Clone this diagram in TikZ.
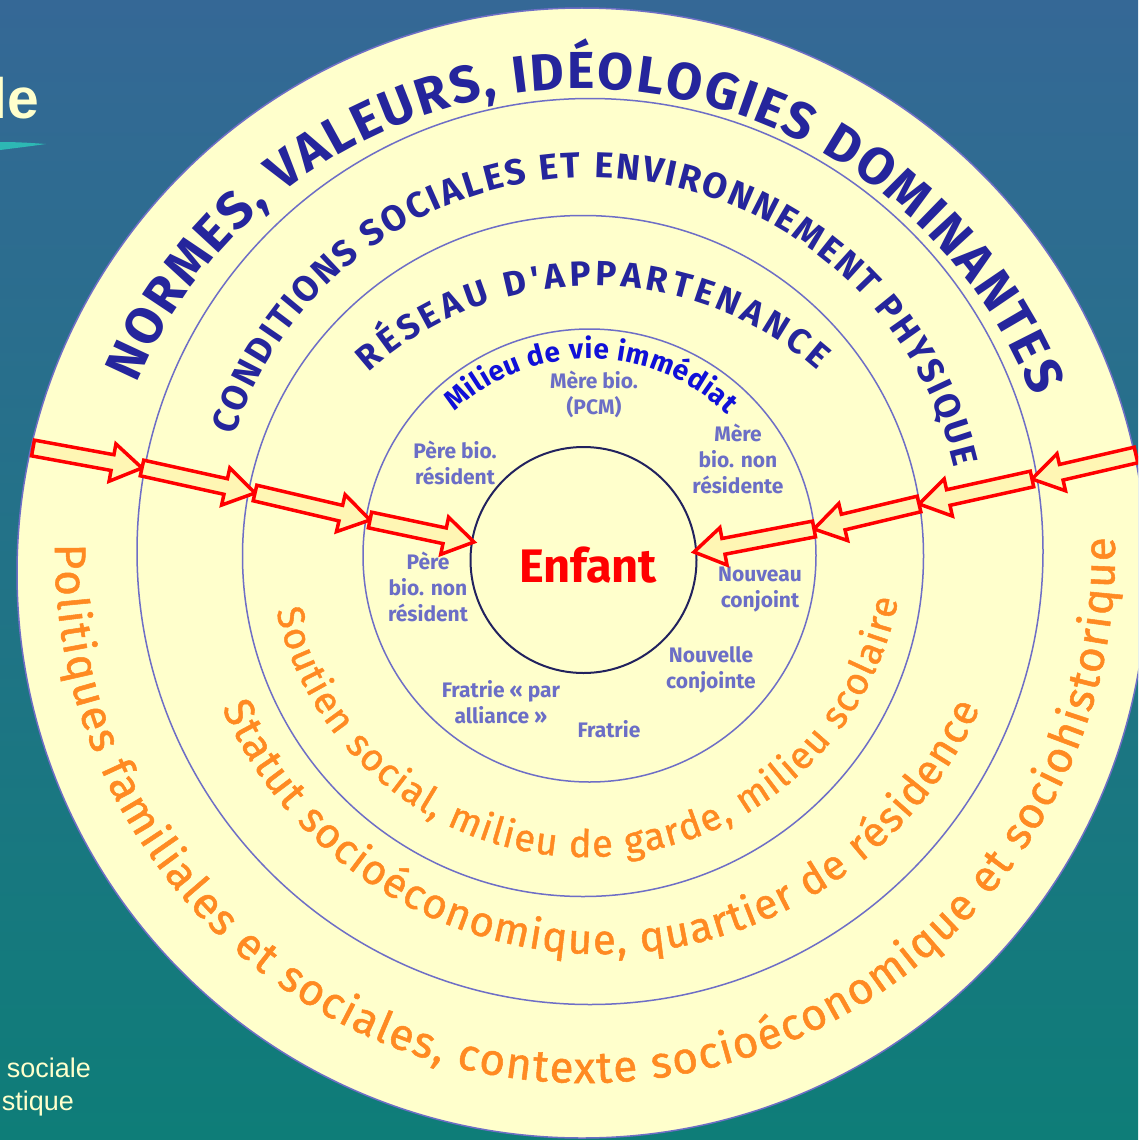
\documentclass[tikz,border=0pt]{standalone}
\usepackage{fontspec}
\setmainfont{Fira Sans}[Ligatures=TeXOff]
\newfontfamily\arialfont{Liberation Sans}
\newfontfamily\orangefont{Fira Sans}[FakeBold=1.2, Ligatures=TeXOff]
\usetikzlibrary{calc}
\usetikzlibrary{decorations.text}
\definecolor{bgtop}{HTML}{356896}
\definecolor{bgmid}{HTML}{24738A}
\definecolor{bgbottom}{HTML}{0E7D78}
\definecolor{ringfill}{HTML}{FFFFCC}
\definecolor{ringline}{HTML}{6E6EC6}
\definecolor{coreline}{HTML}{22225E}
\definecolor{titlecol}{HTML}{25259C}
\definecolor{milieucol}{HTML}{1010D8}
\definecolor{orangecol}{HTML}{FF8A22}
\definecolor{lblcol}{HTML}{6B6EC6}
\definecolor{arrowfill}{HTML}{FFF6B4}
\definecolor{cream}{HTML}{FFFFCC}
\definecolor{swoosh}{HTML}{2DB8B4}
\tikzstyle{ring}   = [fill=ringfill, draw=ringline, line width=1.5pt]
\tikzstyle{circ}   = [draw=ringline, line width=1.5pt]
\tikzstyle{core}   = [draw=coreline, line width=2pt]
\tikzstyle{barrow} = [fill=arrowfill, draw=red, line width=3.5pt, line join=miter]
\tikzstyle{who}    = [text=lblcol, font=\fontsize{21}{26}\selectfont\bfseries, align=center, inner sep=0pt]
\tikzstyle{corner} = [anchor=base east, inner sep=0pt, text=cream]
% block arrow from #1 to #2
\newcommand{\blockarrow}[2]{%
  \coordinate (h) at ($(#2)!30pt!(#1)$);
  \filldraw[barrow] ($(#1)!8pt!90:(#2)$) -- ($(h)!8pt!90:(#2)$) -- ($(h)!19pt!90:(#2)$)
    -- (#2) -- ($(h)!19pt!-90:(#2)$) -- ($(h)!8pt!-90:(#2)$) -- ($(#1)!8pt!-90:(#2)$) -- cycle;
}
% text on an arc: centre, radius, from, to, font, colour, text
\newcommand{\ringtext}[7]{%
  \path[decorate, decoration={text along path, text color=#6,
      text align={fit to path}, text={|#5|#7}}]
    (#1) ++(#3:#2) arc[start angle=#3, end angle=#4, radius=#2];
}

\begin{document}
\begin{tikzpicture}[x=1pt,y=1pt]
\useasboundingbox (0,0) rectangle (1138,-1140);
\clip (0,0) rectangle (1138,-1140);
\shade[top color=bgtop, middle color=bgmid, bottom color=bgbottom] (0,0) rectangle (1138,-1140);
% bits of the slide
\node[corner, font=\arialfont\bfseries\fontsize{57}{57}\selectfont] (titre) at (39,-118) {le};
\fill[swoosh] (0,-142) .. controls (18,-142) and (32,-143) .. (46,-144)
  .. controls (32,-146) and (16,-148) .. (0,-150) -- cycle;
\node[corner, font=\arialfont\fontsize{27}{27}\selectfont] (soc) at (91,-1077) {sociale};
\node[corner, font=\arialfont\fontsize{27}{27}\selectfont] (stq) at (74,-1110) {stique};
% circles
\coordinate (normc) at (582,-573);
\coordinate (condc) at (590,-551.5);
\coordinate (resc) at (583,-556);
\coordinate (milc) at (589.5,-555.5);
\coordinate (enfc) at (583.5,-560);
\filldraw[ring] (normc) circle (565);
\draw[circ] (condc) circle (453);
\draw[circ] (resc) circle (340.5);
\draw[circ] (milc) circle (226.5);
\draw[core] (enfc) circle (113);
% titles
\ringtext{normc}{484}{157}{21.4}{\fontsize{52}{52}\selectfont\bfseries}{titlecol}{NORMES, VALEURS, IDÉOLOGIES DOMINANTES}
\ringtext{condc}{374}{162}{13}{\fontsize{36}{36}\selectfont\bfseries}{titlecol}{CONDITIONS SOCIALES ET ENVIRONNEMENT PHYSIQUE}
\coordinate (restc) at (594,-623);
\ringtext{restc}{337}{132}{48.5}{\fontsize{35}{35}\selectfont\bfseries}{titlecol}{RÉSEAU D'APPARTENANCE}
\ringtext{milc}{197}{133.3}{45.7}{\fontsize{28}{28}\selectfont\bfseries}{milieucol}{Milieu de vie immédiat}
% bottom texts
\coordinate (soutc) at (586,-539);
\coordinate (statc) at (601,-539);
\coordinate (polc) at (585,-553);
\ringtext{soutc}{318}{193}{349}{\orangefont\fontsize{38}{38}\selectfont}{orangecol}{Soutien social, milieu de garde, milieu scolaire}
\ringtext{statc}{415}{204}{336}{\orangefont\fontsize{42}{42}\selectfont}{orangecol}{Statut socioéconomique, quartier de résidence}
\ringtext{polc}{530}{179}{361.7}{\orangefont\fontsize{44}{44}\selectfont}{orangecol}{Politiques familiales et sociales, contexte socioéconomique et sociohistorique}
% people around the child
\node[who] (pcm) at (594,-394) {Mère bio.\\(PCM)};
\node[who] (perres) at (455,-463) {Père bio.\\résident};
\node[who] (merenr) at (738,-459) {Mère\\bio. non\\résidente};
\node[who] (perenr) at (428,-587) {Père\\bio. non\\résident};
\node[who] (nouveau) at (760,-590) {Nouveau\\conjoint};
\node[who] (nouvelle) at (711,-670) {Nouvelle\\conjointe};
\node[who] (fralli) at (501,-702) {Fratrie « par\\alliance »};
\node[who] (fratrie) at (609,-729) {Fratrie};
\node[anchor=base, text=red, font=\bfseries\fontsize{47}{47}\selectfont] (enfant) at (588,-582) {Enfant};
% arrows
\coordinate (l0) at (33,-448);
\coordinate (l1) at (142,-468);
\coordinate (l2) at (255,-493);
\coordinate (l3) at (370,-520);
\coordinate (l4) at (474,-542);
\coordinate (r0) at (1136,-455);
\coordinate (r1) at (1032,-479);
\coordinate (r2) at (919,-504);
\coordinate (r3) at (814,-529);
\coordinate (r4) at (694,-552);
\blockarrow{l0}{l1}
\blockarrow{l1}{l2}
\blockarrow{l2}{l3}
\blockarrow{l3}{l4}
\blockarrow{r0}{r1}
\blockarrow{r1}{r2}
\blockarrow{r2}{r3}
\blockarrow{r3}{r4}
\end{tikzpicture}
\end{document}
